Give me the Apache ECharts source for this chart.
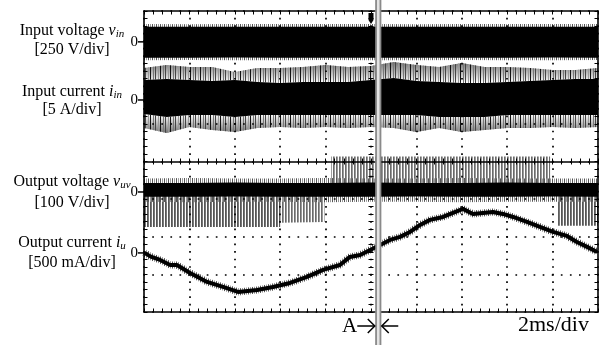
<!DOCTYPE html>
<html>
<head>
<meta charset="utf-8">
<script src="https://cdn.jsdelivr.net/npm/echarts@6/dist/echarts.min.js"></script>
<style>
html, body { margin: 0; padding: 0; background: #fff; }
#main { width: 606px; height: 345px; }
</style>
</head>
<body>
<div id="main"></div>
<script>
// screen: 10 divisions of 2 ms (time in ms, trigger at 0), 8 vertical divisions
var tDiv = [-10, -8, -6, -4, -2, 0, 2, 4, 6, 8, 10];
var tMs = [-10, -9, -8, -7, -6, -5, -4, -3, -2, -1, 0, 1, 2, 3, 4, 5, 6, 7, 8, 9, 10];

// input voltage v_in envelope [V]
var vinHi = [101, 100, 101, 100, 101, 101, 100, 101, 101, 100, 101];
var vinLo = [-105, -105, -104, -105, -105, -105, -106, -105, -105, -104, -105];
var vinHairHi = [118, 117, 119, 118, 118, 118, 117, 118, 119, 118, 118];
var vinHairLo = [-122, -121, -122, -122, -121, -122, -122, -121, -122, -122, -121];

// input current i_in envelope [A]
var iinHi = [2.66, 2.79, 2.66, 2.52, 2.66, 2.39, 2.26, 2.39, 2.39, 2.39, 2.66, 2.92, 2.52, 2.39, 2.26, 2.26, 2.39, 2.52, 2.66, 2.79, 2.79];
var iinLo = [-1.86, -2.26, -1.99, -1.99, -2.26, -1.99, -1.99, -1.99, -1.99, -1.99, -1.99, -1.99, -1.99, -2.26, -2.26, -2.26, -1.99, -1.99, -1.99, -1.99, -1.99];
var iinSpikeHi = [4.25, 4.65, 4.39, 4.39, 3.72, 4.25, 4.25, 4.39, 4.65, 4.39, 4.52, 5.05, 4.65, 4.39, 4.92, 4.39, 4.39, 4.25, 3.99, 3.99, 4.25];
var iinSpikeLo = [-3.72, -4.39, -3.59, -3.99, -4.25, -3.72, -3.59, -3.72, -3.59, -3.72, -3.59, -3.72, -4.25, -3.72, -4.25, -3.99, -3.72, -3.72, -3.59, -3.72, -3.59];

// output voltage v_uv [V]: dense band round zero plus pulse regions
var vuvHi = [24, 24, 25, 24, 24, 25, 24, 24, 25, 24, 24];
var vuvLo = [-13, -13, -12, -13, -13, -13, -12, -13, -13, -12, -13];
var vuvHairHi = [36, 37, 36, 36, 37, 36, 36, 37, 36, 36, 36];
var vuvHairLo = [-26, -27, -26, -26, -27, -26, -26, -27, -26, -26, -26];
var pulseNegT1 = [-10, -4], pulseNegLo1 = [-93, -93];
var pulseNegT2 = [-4, -2.05], pulseNegLo2 = [-82, -80];
var pulsePosT = [-1.76, 7.89], pulsePosHi = [94, 94];
var pulseNegT3 = [8.24, 10], pulseNegLo3 = [-90, -90];

// output current i_u [mA]
var iuT = [-10, -9.7, -9.29, -8.85, -8.55, -7.97, -7.22, -6.52, -5.86, -5.02, -4.32, -3.57, -2.82, -2.11, -1.37, -0.93, -0.48, -0.04, 0.40, 0.84, 1.28, 1.72, 2.16, 2.60, 3.17, 3.61, 4.05, 4.49, 4.93, 5.37, 5.81, 6.26, 6.87, 7.44, 8.02, 8.63, 9.07, 9.52, 9.96];
var iuMA = [4, -49, -93, -160, -160, -266, -385, -452, -518, -492, -452, -399, -319, -226, -160, -53, -27, 40, 106, 173, 213, 279, 372, 439, 478, 532, 585, 518, 532, 545, 518, 478, 412, 346, 279, 226, 146, 80, 13];

// cursor A time [ms]
var markerT = 0.32;

// channel zero level (divisions from centre) and units per division
var CH = {
  vin: { zero: 3.18, perDiv: 250 },
  iin: { zero: 1.635, perDiv: 5 },
  vuv: { zero: -0.81, perDiv: 100 },
  iu: { zero: -2.43, perDiv: 500 }
};

var SERIF = "'Liberation Serif', 'Times New Roman', serif";

function toDiv(ch, v) { return ch.zero + v / ch.perDiv; }
function band(ch, t, lo, hi) {
  return t.map(function (x, i) {
    return [x, toDiv(ch, lo.length ? lo[i] : lo), toDiv(ch, hi.length ? hi[i] : hi)];
  });
}
// vertical stripe pattern, one entry per pixel column (null = see-through)
function stripes(cols) {
  var c = document.createElement('canvas');
  c.width = cols.length; c.height = 1;
  var g = c.getContext('2d');
  cols.forEach(function (col, i) {
    if (col) { g.fillStyle = col; g.fillRect(i, 0, 1, 1); }
  });
  return { image: c, repeat: 'repeat' };
}
function fade(toTop) {
  return { type: 'linear', x: 0, y: 0, x2: 0, y2: 1, colorStops: [
    { offset: 0, color: toTop ? 'rgba(0,0,0,0)' : 'rgba(0,0,0,0.55)' },
    { offset: 1, color: toTop ? 'rgba(0,0,0,0.55)' : 'rgba(0,0,0,0)' }
  ] };
}

var series = [];
function pushBand(data, fill) {
  series.push({
    type: 'custom', data: data, silent: true, clip: true,
    encode: { x: 0, y: [1, 2] },
    renderItem: function (params, api) {
      if (params.dataIndexInside !== 0) return null;
      var n = params.dataInsideLength, up = [], dn = [];
      for (var j = 0; j < n; j++) {
        up.push(api.coord([api.value(0, j), api.value(2, j)]));
        dn.unshift(api.coord([api.value(0, j), api.value(1, j)]));
      }
      return { type: 'polygon', shape: { points: up.concat(dn) }, style: { fill: fill } };
    }
  });
}

var hair = stripes(['#555', null, '#999', null]);
var spikes = stripes(['#111', null, null, '#777', null, '#444', null, null, '#999', null]);
var pulseDark = stripes(['#555', '#777', null]);
var pulseLight = stripes(['#6a6a6a', '#999', null]);

// v_in
pushBand(band(CH.vin, tDiv, vinHairLo, vinHairHi), hair);
pushBand(band(CH.vin, tDiv, vinLo, vinHi), '#000');
// i_in
pushBand(band(CH.iin, tMs, iinHi, iinSpikeHi), fade(false));
pushBand(band(CH.iin, tMs, iinHi, iinSpikeHi), spikes);
pushBand(band(CH.iin, tMs, iinSpikeLo, iinLo), fade(true));
pushBand(band(CH.iin, tMs, iinSpikeLo, iinLo), spikes);
pushBand(band(CH.iin, tMs, iinLo, iinHi), '#000');
// v_uv
pushBand(band(CH.vuv, pulseNegT1, pulseNegLo1, 0), pulseDark);
pushBand(band(CH.vuv, pulseNegT2, pulseNegLo2, 0), pulseLight);
pushBand(band(CH.vuv, pulsePosT, 0, pulsePosHi), pulseLight);
pushBand(band(CH.vuv, pulseNegT3, pulseNegLo3, 0), pulseDark);
pushBand(band(CH.vuv, tDiv, vuvHairLo, vuvHairHi), hair);
pushBand(band(CH.vuv, tDiv, vuvLo, vuvHi), '#000');
// i_u
var iuData = iuT.map(function (t, i) { return [t, toDiv(CH.iu, iuMA[i])]; });
series.push({
  type: 'line', data: iuData, symbol: 'none', silent: true,
  lineStyle: { color: stripes(['#555', null, '#999', null]), width: 7 }
});
series.push({
  type: 'line', data: iuData, symbol: 'none', silent: true,
  lineStyle: { color: '#000', width: 4 }
});

function axis(dim, pos, onZero, o) {
  o = o || {};
  var isX = dim === 'x';
  var a = {
    type: 'value', position: pos, z: 5, silent: true,
    min: isX ? -10 : -4, max: isX ? 10 : 4, interval: isX ? 2 : 1,
    axisLine: { show: o.line !== false, onZero: onZero, lineStyle: { color: '#000', width: 1.6 } },
    axisTick: { show: true, inside: true, length: o.tl || 3.5, lineStyle: { color: '#000', width: 1 } },
    minorTick: { show: true, splitNumber: 5, length: o.tl || 3.5, lineStyle: { color: '#000', width: 1 } },
    axisLabel: { show: false },
    splitLine: { show: false }
  };
  if (onZero) a.axisLine.onZeroAxisIndex = 0;
  if (o.grid) {
    a.splitLine = { show: true, lineStyle: { color: '#000', width: 1.7, type: o.grid, dashOffset: 0.85 } };
  }
  return a;
}

var option = {
  animation: false,
  backgroundColor: '#fff',
  grid: { left: 144, right: 8, top: 11, bottom: 33, show: false },
  xAxis: [
    axis('x', 'bottom', false, { grid: [1.7, 5.83] }),
    axis('x', 'top', false),
    axis('x', 'bottom', true, { tl: 3 }),
    axis('x', 'top', true, { tl: 3, line: false })
  ],
  yAxis: [
    axis('y', 'left', false, { grid: [1.7, 7.38] }),
    axis('y', 'right', false),
    axis('y', 'left', true, { tl: 2.5, line: false }),
    axis('y', 'right', true, { tl: 2.5, line: false })
  ],
  series: series
};

var chart = echarts.init(document.getElementById('main'));
chart.setOption(option);

// annotations placed from the axes
var mx = chart.convertToPixel({ xAxisIndex: 0 }, markerT);
var cx = chart.convertToPixel({ xAxisIndex: 0 }, 0);
var gTop = chart.convertToPixel({ yAxisIndex: 0 }, 4);
var rich = {
  n: { fontFamily: SERIF, fontSize: 16, fill: '#000' },
  v: { fontFamily: SERIF, fontSize: 16, fontStyle: 'italic', fill: '#000' },
  s: { fontFamily: SERIF, fontSize: 11, fontStyle: 'italic', fill: '#000', verticalAlign: 'bottom', padding: [7, 0, 0, 0] }
};
var labelRows = [
  [31, '{n|Input voltage }{v|v}{s|in}'],
  [50, '{n|[250 V/div]}'],
  [92, '{n|Input current }{v|i}{s|in}'],
  [110, '{n|[5 A/div]}'],
  [182, '{n|Output voltage }{v|v}{s|uv}'],
  [203, '{n|[100 V/div]}'],
  [243, '{n|Output current }{v|i}{s|u}'],
  [263, '{n|[500 mA/div]}']
];
var g = [];
labelRows.forEach(function (r) {
  g.push({ type: 'text', z: 10, silent: true,
    style: { text: r[1], x: 72, y: r[0], align: 'center', verticalAlign: 'middle', textAlign: 'center', textVerticalAlign: 'middle', rich: rich } });
});
['vin', 'iin', 'vuv', 'iu'].forEach(function (k) {
  var y = chart.convertToPixel({ yAxisIndex: 0 }, CH[k].zero);
  g.push({ type: 'text', z: 10, silent: true,
    style: { text: '0', x: 138, y: y, align: 'right', verticalAlign: 'middle', textAlign: 'right', textVerticalAlign: 'middle', font: '15px ' + SERIF, fill: '#000' } });
  g.push({ type: 'line', z: 10, silent: true, shape: { x1: 138, y1: y, x2: 144, y2: y }, style: { stroke: '#000', lineWidth: 1.5 } });
});
// trigger marker
g.push({ type: 'polygon', z: 10, silent: true,
  shape: { points: [[cx - 2.5, gTop + 2], [cx + 2.5, gTop + 2], [cx + 2.5, gTop + 9], [cx, gTop + 13], [cx - 2.5, gTop + 9]] },
  style: { fill: '#000' } });
// cursor A
g.push({ type: 'rect', z: 11, silent: true, shape: { x: mx - 2.2, y: 0, width: 4.4, height: 345 }, style: { fill: '#e4e4e4' } });
g.push({ type: 'line', z: 12, silent: true, shape: { x1: mx - 2.2, y1: 0, x2: mx - 2.2, y2: 345 }, style: { stroke: '#8a8a8a', lineWidth: 1.8 } });
g.push({ type: 'line', z: 12, silent: true, shape: { x1: mx + 2.2, y1: 0, x2: mx + 2.2, y2: 345 }, style: { stroke: '#8a8a8a', lineWidth: 1.8 } });
var ay = 326;
g.push({ type: 'text', z: 12, silent: true,
  style: { text: 'A', x: mx - 21, y: ay, align: 'right', verticalAlign: 'middle', textAlign: 'right', textVerticalAlign: 'middle', font: '21px ' + SERIF, fill: '#000' } });
g.push({ type: 'polyline', z: 12, silent: true, shape: { points: [[mx - 21, ay], [mx - 3.5, ay]] }, style: { stroke: '#000', lineWidth: 1.5, fill: null } });
g.push({ type: 'polyline', z: 12, silent: true, shape: { points: [[mx - 10.5, ay - 7], [mx - 3.5, ay], [mx - 10.5, ay + 7]] }, style: { stroke: '#000', lineWidth: 1.5, fill: null } });
g.push({ type: 'polyline', z: 12, silent: true, shape: { points: [[mx + 3.5, ay], [mx + 20, ay]] }, style: { stroke: '#000', lineWidth: 1.5, fill: null } });
g.push({ type: 'polyline', z: 12, silent: true, shape: { points: [[mx + 10.5, ay - 7], [mx + 3.5, ay], [mx + 10.5, ay + 7]] }, style: { stroke: '#000', lineWidth: 1.5, fill: null } });
g.push({ type: 'text', z: 12, silent: true,
  style: { text: '2ms/div', x: 518, y: 325, align: 'left', verticalAlign: 'middle', textAlign: 'left', textVerticalAlign: 'middle', font: '22px ' + SERIF, fill: '#000' } });

chart.setOption({ graphic: g });
</script>
</body>
</html>
